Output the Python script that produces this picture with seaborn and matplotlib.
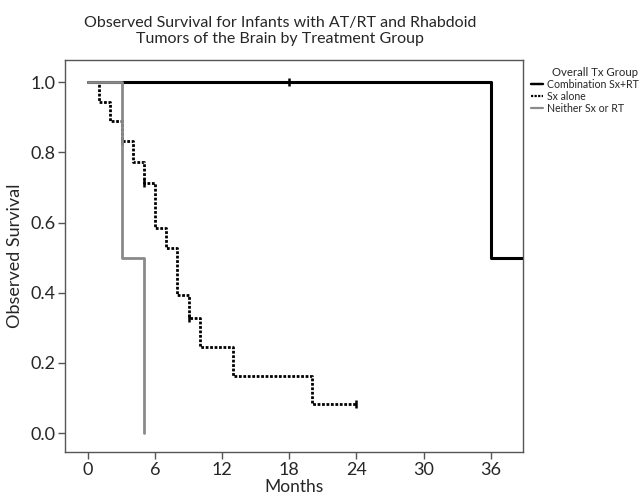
import pandas as pd
import matplotlib
matplotlib.use("Agg")
import matplotlib.pyplot as plt
import seaborn as sns
from matplotlib.lines import Line2D

# ================= Data =================
groups = ["Combination Sx+RT", "Sx alone", "Neither Sx or RT"]

combo_months = [0, 36, 39]
combo_surv = [1.0, 0.5, 0.5]
combo_cens_months = [18]
combo_cens_surv = [1.0]

sx_months = [0, 1, 2, 3, 4, 5, 6, 7, 8, 9, 10, 13, 20, 24]
sx_surv = [1.0, 0.944, 0.889, 0.833, 0.772, 0.714, 0.584, 0.526, 0.394,
           0.328, 0.246, 0.164, 0.082, 0.082]
sx_cens_months = [3, 5, 9, 24]
sx_cens_surv = [0.833, 0.714, 0.328, 0.082]

neither_months = [0, 3, 5]
neither_surv = [1.0, 0.5, 0.0]

x_ticks = [0, 6, 12, 18, 24, 30, 36]
y_ticks = [0.0, 0.2, 0.4, 0.6, 0.8, 1.0]

# ================= Styles =================
sns.set_theme(style="white")
plt.rcParams["font.family"] = ["Lato", "DejaVu Sans"]

colors = {"Combination Sx+RT": "black", "Sx alone": "black", "Neither Sx or RT": "#8a8a8a"}
styles = {"Combination Sx+RT": "-", "Sx alone": (0, (1, 0.6)), "Neither Sx or RT": "-"}
widths = {"Combination Sx+RT": 2.2, "Sx alone": 2.0, "Neither Sx or RT": 2.0}

curves = {
    "Combination Sx+RT": (combo_months, combo_surv, combo_cens_months, combo_cens_surv),
    "Sx alone": (sx_months, sx_surv, sx_cens_months, sx_cens_surv),
    "Neither Sx or RT": (neither_months, neither_surv, [], []),
}

fig = plt.figure(figsize=(6.41, 4.97), dpi=100)
ax = fig.add_axes([0.1014, 0.0905, 0.714, 0.7887])

for g in groups:
    t, s, ct, cs = curves[g]
    df = pd.DataFrame({"Months": t, "Survival": s})
    sns.lineplot(data=df, x="Months", y="Survival", ax=ax, estimator=None, sort=False,
                 drawstyle="steps-post", color=colors[g], linestyle=styles[g],
                 linewidth=widths[g])
    if ct:
        ax.plot(ct, cs, linestyle="none", marker="|", markersize=6,
                markeredgewidth=1.8, color=colors[g])

ax.set_xlim(-2.05, 38.85)
ax.set_ylim(-0.054, 1.063)
ax.set_xticks(x_ticks)
ax.set_yticks(y_ticks)
ax.set_xticklabels([str(v) for v in x_ticks], fontsize=13)
ax.set_yticklabels([f"{v:.1f}" for v in y_ticks], fontsize=13)
ax.tick_params(axis="both", direction="out", length=5, width=1, color="#555555",
               bottom=True, left=True, pad=2)
for sp in ax.spines.values():
    sp.set_color("#555555")
    sp.set_linewidth(1.0)

ax.set_xlabel("Months", fontsize=12.5, labelpad=1)
ax.set_ylabel("Observed Survival", fontsize=13, labelpad=5)

fig.text(0.437, 0.967, "Observed Survival for Infants with AT/RT and Rhabdoid\n"
         "Tumors of the Brain by Treatment Group", ha="center", va="top",
         fontsize=11.5, linespacing=1.1)

handles = [Line2D([0], [0], color=colors[g], linestyle=styles[g], linewidth=widths[g] * 0.8)
           for g in groups]
leg = fig.legend(handles, groups, title="Overall Tx Group", loc="upper left",
                 bbox_to_anchor=(0.818, 0.878), frameon=False, fontsize=7.6,
                 title_fontsize=8.2, handlelength=1.2, handletextpad=0.3,
                 labelspacing=0.08, borderpad=0.1)
leg._legend_box.align = "right"

fig.savefig("out.png", dpi=100)
